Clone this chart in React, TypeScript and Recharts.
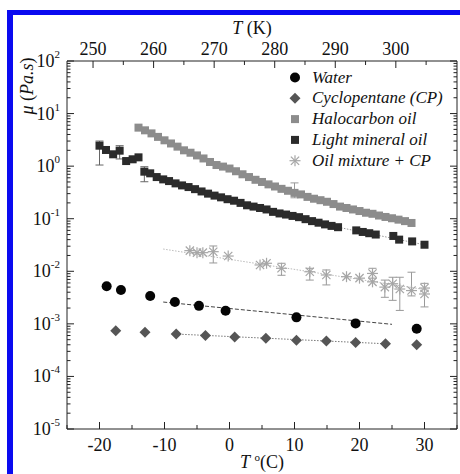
import React from "react";
import { ScatterChart, Scatter, XAxis, YAxis, ErrorBar } from "recharts";

const SERIF = "'Liberation Serif', 'Times New Roman', serif";

// T in °C, viscosity mu in Pa.s
const waterT = [-18.9, -16.7, -12.2, -8.4, -4.7, -0.6, 10.3, 19.4, 28.8];
const waterMu = [5.2e-3, 4.4e-3, 3.4e-3, 2.6e-3, 2.2e-3, 1.78e-3, 1.33e-3, 1.02e-3, 8.1e-4];

const cpT = [-17.5, -13.0, -8.2, -3.7, 0.8, 5.6, 10.3, 14.9, 19.4, 24.0, 28.8];
const cpMu = [7.4e-4, 6.9e-4, 6.4e-4, 6.0e-4, 5.6e-4, 5.3e-4, 4.9e-4, 4.7e-4, 4.4e-4, 4.2e-4, 4.0e-4];

const haloT = [
  -14, -13, -12, -11, -10, -9, -8, -7, -6, -5, -4, -3, -2, -1, 0, 1, 2, 3, 4, 5, 6, 7,
  8, 9, 10, 11, 12, 13, 14, 15, 16, 17, 18, 19, 20, 21, 22, 23, 24, 25, 26, 27, 28,
];
const haloMu = [
  5.4, 4.8, 4.2, 3.6, 3.1, 2.7, 2.35, 2.0, 1.8, 1.6, 1.4, 1.2, 1.05, 0.98, 0.9, 0.8,
  0.7, 0.62, 0.55, 0.5, 0.45, 0.41, 0.37, 0.34, 0.31, 0.29, 0.26, 0.24, 0.225, 0.21,
  0.19, 0.17, 0.16, 0.15, 0.14, 0.13, 0.124, 0.115, 0.108, 0.102, 0.096, 0.09, 0.083,
];
const haloErr: (number[] | undefined)[] = haloT.map((t) => (t === 10 ? [0.06, 0.17] : undefined));

const mineralT = [
  -20.0, -19.0, -17.9, -16.9, -15.9, -14.9, -14.0, -13.1, -12.2, -11.2, -10.2, -9.3,
  -8.3, -7.3, -6.3, -5.3, -4.3, -3.3, -2.3, -1.3, -0.3, 0.7, 1.7, 2.7, 3.7, 4.7, 5.7,
  6.7, 7.7, 8.7, 9.7, 10.7, 11.7, 12.7, 13.7, 14.7, 15.7, 16.7, 19.5, 20.5, 21.5, 22.5,
  25.2, 26.1, 28.1, 30.0,
];
const mineralMu = [
  2.45, 2.03, 1.68, 1.97, 1.25, 1.35, 1.47, 0.785, 0.73, 0.62, 0.56, 0.52, 0.47, 0.43,
  0.4, 0.365, 0.33, 0.3, 0.275, 0.255, 0.235, 0.22, 0.2, 0.18, 0.17, 0.16, 0.15, 0.135,
  0.126, 0.12, 0.113, 0.107, 0.098, 0.09, 0.084, 0.078, 0.073, 0.069, 0.06, 0.056,
  0.053, 0.05, 0.047, 0.04, 0.037, 0.032,
];
const mineralErrAt: Record<number, number[]> = { 0: [1.4, 0.55], 3: [0.6, 0.48], 7: [0.28, 0.19] };

const mixT = [
  -6.1, -5.0, -4.1, -2.5, -0.2, 4.7, 5.7, 8.0, 12.35, 14.9, 18.0, 20.0, 22.0, 22.0, 23.9,
  25.1, 26.2, 28.0, 30.0, 30.0,
];
const mixMu = [
  0.0247, 0.0226, 0.0226, 0.0236, 0.0195, 0.0132, 0.0142, 0.0114, 0.0098, 0.0085,
  0.0079, 0.0074, 0.0091, 0.0063, 0.005, 0.0058, 0.0046, 0.0043, 0.0048, 0.0037,
];
const mixErrAt: Record<number, number[]> = {
  3: [0.0092, 0.0067],
  7: [0.003, 0.0028],
  8: [0.003, 0.0016],
  9: [0.003, 0.0021],
  12: [0.0017, 0.0023],
  14: [0.0018, 0.0018],
  15: [0.003, 0.0019],
  16: [0.0028, 0.0031],
  17: [0.0009, 0.0053],
  18: [0.0027, 0.0011],
};

// fitted lines drawn in the figure
const waterFitT = [-10.2, 25.0];
const waterFitMu = [2.6e-3, 9.8e-4];
const cpFitT = [-8.2, 24.6];
const cpFitMu = [6.4e-4, 4.15e-4];
const mixFitT = [-10.2, 30.5];
const mixFitMu = [0.0265, 0.0044];
const mineralFitT = [16.7, 30.5];
const mineralFitMu = [0.069, 0.031];

const seriesNames = ["Water", "Cyclopentane (CP)", "Halocarbon oil", "Light mineral oil", "Oil mixture + CP"];

const bottomTicks = [-25, -20, -15, -10, -5, 0, 5, 10, 15, 20, 25, 30, 35];
const topTicks = [250, 255, 260, 265, 270, 275, 280, 285, 290, 295, 300, 305];
const topDomain = [245.7, 310.1];
const yDomain = [1e-5, 100];
const yDecades = [-5, -4, -3, -2, -1, 0, 1, 2];

const yTicks: number[] = [];
yDecades.forEach((d) => {
  yTicks.push(Math.pow(10, d));
  if (d < 2) for (let m = 2; m <= 9; m++) yTicks.push(m * Math.pow(10, d));
});

const rows = (t: number[], mu: number[], err?: (i: number) => number[] | undefined) =>
  t.map((T, i) => ({ T, mu: mu[i], err: err ? err(i) : undefined }));

const isMajorY = (v: number) => Math.abs(Math.log10(v) - Math.round(Math.log10(v))) < 1e-6;

function LeftTick({ x, y, payload }: any) {
  const v = payload.value;
  const major = isMajorY(v);
  return (
    <g>
      <line x1={x} x2={x + (major ? 7 : 3.5)} y1={y} y2={y} stroke="#222" strokeWidth={1} />
      {major && (
        <text x={x - 7} y={y + 6} textAnchor="end" fontFamily={SERIF} fontSize={18} fill="#111">
          10
          <tspan dy={-9} fontSize={11}>
            {Math.round(Math.log10(v))}
          </tspan>
        </text>
      )}
    </g>
  );
}

function RightTick({ x, y, payload }: any) {
  const major = isMajorY(payload.value);
  return <line x1={x} x2={x - (major ? 7 : 3.5)} y1={y} y2={y} stroke="#222" strokeWidth={1} />;
}

function BottomTick({ x, y, payload }: any) {
  const v = payload.value;
  const major = v % 10 === 0;
  return (
    <g>
      <line x1={x} x2={x} y1={y} y2={y - (major ? 7 : 4)} stroke="#222" />
      {major && (
        <text x={x} y={y + 22} textAnchor="middle" fontFamily={SERIF} fontSize={18} fill="#111">
          {v}
        </text>
      )}
    </g>
  );
}

function TopTick({ x, y, payload }: any) {
  const v = payload.value;
  const major = v % 10 === 0;
  return (
    <g>
      <line x1={x} x2={x} y1={y} y2={y + (major ? 7 : 4)} stroke="#222" />
      {major && v >= 250 && v <= 300 && (
        <text x={x} y={y - 6} textAnchor="middle" fontFamily={SERIF} fontSize={18} fill="#111">
          {v}
        </text>
      )}
    </g>
  );
}

const circle = (color: string, r: number) => (p: any) => <circle cx={p.cx} cy={p.cy} r={r} fill={color} />;
const square = (color: string, s: number) => (p: any) => (
  <rect x={p.cx - s / 2} y={p.cy - s / 2} width={s} height={s} fill={color} />
);
const diamond = (color: string, s: number) => (p: any) => (
  <polygon
    points={`${p.cx},${p.cy - s} ${p.cx + s},${p.cy} ${p.cx},${p.cy + s} ${p.cx - s},${p.cy}`}
    fill={color}
  />
);
const asterisk = (color: string, s: number) => (p: any) => (
  <g stroke={color} strokeWidth={1.2}>
    <line x1={p.cx - s} x2={p.cx + s} y1={p.cy} y2={p.cy} />
    <line x1={p.cx} x2={p.cx} y1={p.cy - s} y2={p.cy + s} />
    <line x1={p.cx - s * 0.75} x2={p.cx + s * 0.75} y1={p.cy - s * 0.75} y2={p.cy + s * 0.75} />
    <line x1={p.cx - s * 0.75} x2={p.cx + s * 0.75} y1={p.cy + s * 0.75} y2={p.cy - s * 0.75} />
  </g>
);
const none = () => <g />;

const WATER = "#050505";
const CP = "#555555";
const HALO = "#8c8c8c";
const MINERAL = "#2b2b2b";
const MIX = "#a6a6a6";

const markers = [
  circle(WATER, 5),
  diamond(CP, 5.5),
  square(HALO, 8),
  square(MINERAL, 8),
  asterisk(MIX, 5.5),
];

export default function App() {
  const common = { xAxisId: "b", yAxisId: "l", dataKey: "mu", isAnimationActive: false } as const;
  return (
    <div style={{ position: "absolute", left: 0, top: 0, width: 460, height: 474, background: "#fff", overflow: "hidden" }}>
      <div
        style={{
          position: "absolute",
          left: 7,
          top: 10,
          width: 470,
          height: 480,
          borderLeft: "6px solid #0a0af0",
          borderTop: "5px solid #0a0af0",
        }}
      />
      <div style={{ position: "absolute", left: 0, top: 0 }}>
        <ScatterChart width={460} height={474} margin={{ top: 0, right: 0, bottom: 0, left: 0 }}>
          <XAxis
            xAxisId="b"
            type="number"
            dataKey="T"
            domain={[-25, 35]}
            allowDataOverflow
            ticks={bottomTicks}
            interval={0}
            height={45}
            tickSize={0}
            tickMargin={0}
            tickLine={false}
            axisLine={{ stroke: "#222" }}
            tick={<BottomTick />}
          />
          <XAxis
            xAxisId="t"
            orientation="top"
            type="number"
            dataKey="T"
            domain={topDomain}
            allowDataOverflow
            ticks={topTicks}
            interval={0}
            height={61}
            tickSize={0}
            tickMargin={0}
            tickLine={false}
            axisLine={{ stroke: "#222" }}
            tick={<TopTick />}
          />
          <YAxis
            yAxisId="l"
            type="number"
            dataKey="mu"
            scale="log"
            domain={yDomain}
            allowDataOverflow
            ticks={yTicks}
            interval={0}
            width={67}
            tickSize={0}
            tickMargin={0}
            tickLine={false}
            axisLine={{ stroke: "#222" }}
            tick={<LeftTick />}
          />
          <YAxis
            yAxisId="r"
            orientation="right"
            type="number"
            dataKey="mu"
            scale="log"
            domain={yDomain}
            allowDataOverflow
            ticks={yTicks}
            interval={0}
            width={3}
            tickSize={0}
            tickMargin={0}
            tickLine={false}
            axisLine={{ stroke: "#222" }}
            tick={<RightTick />}
          />

          {/* empty series that binds the kelvin axis and the mirrored log axis */}
          <Scatter xAxisId="t" yAxisId="r" dataKey="mu" data={[]} shape={none} isAnimationActive={false} />

          <Scatter {...common} data={rows(waterFitT, waterFitMu)} shape={none}
            line={{ stroke: "#444", strokeWidth: 1, strokeDasharray: "4 2" }} />
          <Scatter {...common} data={rows(cpFitT, cpFitMu)} shape={none}
            line={{ stroke: "#777", strokeWidth: 1, strokeDasharray: "1.5 1.5" }} />
          <Scatter {...common} data={rows(mixFitT, mixFitMu)} shape={none}
            line={{ stroke: "#bbb", strokeWidth: 1, strokeDasharray: "1.5 1.5" }} />
          <Scatter {...common} data={rows(mineralFitT, mineralFitMu)} shape={none}
            line={{ stroke: "#999", strokeWidth: 1, strokeDasharray: "1.5 1.5" }} />

          <Scatter {...common} name={seriesNames[4]} data={rows(mixT, mixMu, (i) => mixErrAt[i])} shape={markers[4]}>
            <ErrorBar dataKey="err" direction="y" width={4} stroke="#999" strokeWidth={1} />
          </Scatter>
          <Scatter {...common} name={seriesNames[2]} data={rows(haloT, haloMu, (i) => haloErr[i])} shape={markers[2]}>
            <ErrorBar dataKey="err" direction="y" width={4} stroke="#999" strokeWidth={1} />
          </Scatter>
          <Scatter {...common} name={seriesNames[3]} data={rows(mineralT, mineralMu, (i) => mineralErrAt[i])} shape={markers[3]}>
            <ErrorBar dataKey="err" direction="y" width={4} stroke="#666" strokeWidth={1} />
          </Scatter>
          <Scatter {...common} name={seriesNames[0]} data={rows(waterT, waterMu)} shape={markers[0]} />
          <Scatter {...common} name={seriesNames[1]} data={rows(cpT, cpMu)} shape={markers[1]} />
        </ScatterChart>
      </div>

      {/* legend */}
      <svg style={{ position: "absolute", left: 0, top: 0 }} width={460} height={474} pointerEvents="none">
        {seriesNames.map((name, i) => {
          const cy = 77.5 + i * 20.8;
          const Mark = markers[i];
          return (
            <g key={name}>
              <Mark cx={295} cy={cy} />
              <text x={312} y={cy + 5} fontFamily={SERIF} fontStyle="italic" fontSize={17} fill="#111">
                {name}
              </text>
            </g>
          );
        })}
      </svg>

      {/* axis titles */}
      <div style={{ position: "absolute", left: 200, width: 104, top: 18, textAlign: "center", fontFamily: SERIF, fontSize: 18, color: "#111" }}>
        <i>T</i> (K)
      </div>
      <div style={{ position: "absolute", left: 210, width: 104, top: 451, textAlign: "center", fontFamily: SERIF, fontSize: 18, color: "#111" }}>
        <i>T</i> <sup style={{ fontSize: 11 }}>o</sup>(C)
      </div>
      <div
        style={{
          position: "absolute",
          left: 27,
          top: 86,
          transform: "translate(-50%, -50%) rotate(-90deg)",
          whiteSpace: "nowrap",
          fontFamily: SERIF,
          fontSize: 18,
          color: "#111",
        }}
      >
        <i>μ</i> (<i>Pa.s</i>)
      </div>
    </div>
  );
}
